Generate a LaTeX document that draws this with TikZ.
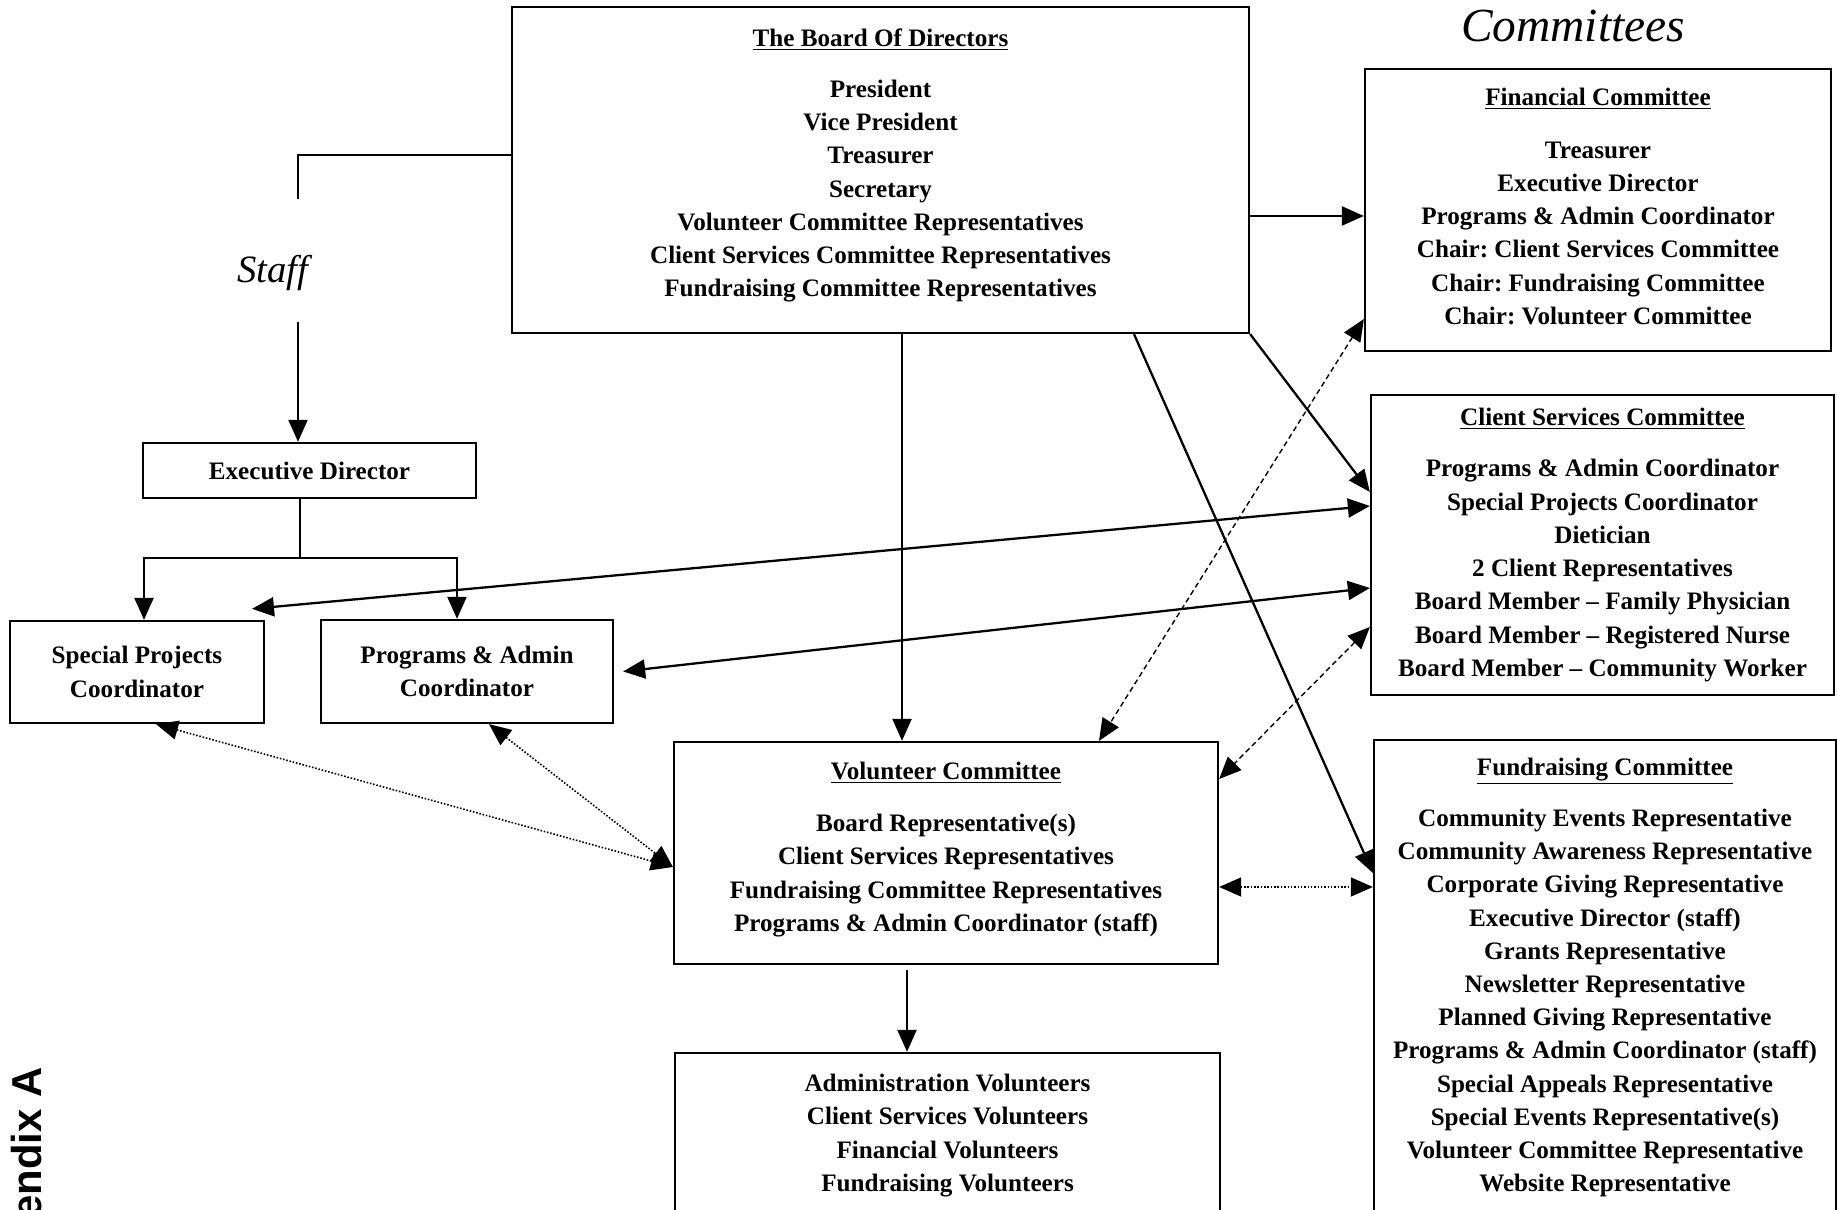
\documentclass[tikz,border=0pt]{standalone}
\usepackage{fontspec}
\setmainfont{Liberation Serif}
\newfontfamily\appxfont{Liberation Sans}
\usetikzlibrary{arrows.meta}
\frenchspacing

\begin{document}
\begin{tikzpicture}[
        x=1cm, y=1cm,
        >={Triangle[length=0.44cm, width=0.38cm]},
        box/.style={draw, line width=1.3pt, align=center, inner sep=0pt,
                    font=\bfseries\fontsize{14.3}{18.9}\selectfont},
        wire/.style={line width=1.3pt},
        flow/.style={->, line width=1.3pt},
        both/.style={<->, line width=1.3pt},
        liaison/.style={<->, line width=0.8pt, densely dashed},
        dots/.style={<->, line width=0.9pt, densely dotted},
        lbl/.style={font=\itshape\fontsize{22}{26}\selectfont, inner sep=0pt}]

    \clip (0,0) rectangle (36.74,24.20);

    \node[box, minimum width=14.74cm, minimum height=6.52cm] (board) at (17.61,20.80)
        {\underline{The Board Of Directors}\\[0.36cm]President\\Vice President\\Treasurer\\Secretary\\
         Volunteer Committee Representatives\\Client Services Committee Representatives\\
         Fundraising Committee Representatives\\[-0.37cm]\rule{0pt}{0pt}};
    \node[lbl, font=\itshape\fontsize{27}{31}\selectfont] (cmt) at (31.46,23.68) {Committees};
    \node[box, minimum width=9.32cm, minimum height=5.64cm] (fin) at (31.96,20.00)
        {\underline{Financial Committee}\\[0.38cm]Treasurer\\Executive Director\\Programs \& Admin Coordinator\\
         Chair: Client Services Committee\\Chair: Fundraising Committee\\Chair: Volunteer Committee\\[-0.52cm]\rule{0pt}{0pt}};
    \node[box, minimum width=9.26cm, minimum height=6.00cm] (cs) at (32.05,13.30)
        {\underline{Client Services Committee}\\[0.36cm]Programs \& Admin Coordinator\\Special Projects Coordinator\\
         Dietician\\2 Client Representatives\\Board Member -- Family Physician\\
         Board Member -- Registered Nurse\\Board Member -- Community Worker};
    \node[box, minimum width=9.24cm, minimum height=9.50cm] (fr) at (32.10,4.65)
        {\underline{Fundraising Committee}\\[0.36cm]Community Events Representative\\Community Awareness Representative\\
         Corporate Giving Representative\\Executive Director (staff)\\Grants Representative\\
         Newsletter Representative\\Planned Giving Representative\\Programs \& Admin Coordinator (staff)\\
         Special Appeals Representative\\Special Events Representative(s)\\
         Volunteer Committee Representative\\Website Representative};

    \node[lbl] (staff) at (5.46,18.74) {Staff};
    \node[box, minimum width=6.66cm, minimum height=1.10cm] (ed)  at (6.19,14.79) {Executive Director};
    \node[box, minimum width=5.08cm, minimum height=2.04cm] (spc) at (2.74,10.76) {Special Projects\\Coordinator};
    \node[box, minimum width=5.84cm, minimum height=2.06cm] (pac) at (9.34,10.77) {Programs \& Admin\\Coordinator};
    \node[box, minimum width=10.88cm, minimum height=4.44cm] (vc) at (18.92,7.14)
        {\underline{Volunteer Committee}\\[0.38cm]Board Representative(s)\\Client Services Representatives\\
         Fundraising Committee Representatives\\Programs \& Admin Coordinator (staff)\\[-0.41cm]\rule{0pt}{0pt}};
    \node[box, minimum width=10.90cm, minimum height=3.30cm] (vols) at (18.95,1.49)
        {Administration Volunteers\\Client Services Volunteers\\Financial Volunteers\\Fundraising Volunteers};
    \node[rotate=90, anchor=base east, inner sep=0pt,
          font=\appxfont\bfseries\fontsize{23.8}{28}\selectfont] (appx) at (0.84,2.86) {Appendix A};

    % --- Staff
    \coordinate (staffin)  at (5.96,20.22);
    \coordinate (staffout) at (5.96,17.76);
    \draw[wire] (board.west |- 0,21.10) -| (staffin);
    \draw[flow] (staffout) -- (staffout |- ed.north);
    \coordinate (edfork) at (6.00,13.04);
    \draw[wire] ([xshift=-0.19cm]ed.south) -- (edfork);
    \draw[flow] (edfork) -| ([xshift=0.14cm]spc.north);
    \draw[flow] (edfork) -| ([xshift=-0.20cm]pac.north);

    % --- Board to committees
    \draw[flow] ([yshift=-0.12cm]fin.west -| board.east) -- ([yshift=-0.12cm]fin.west);
    \draw[flow] (board.south east) -- ([yshift=1.06cm]cs.west);
    \draw[flow] ([xshift=5.07cm]board.south) -- ([yshift=2.09cm]fr.west);
    \draw[flow] ([xshift=-0.88cm]vc.north |- board.south) -- ([xshift=-0.88cm]vc.north);
    \coordinate (volsfeed) at (18.14,4.80);
    \draw[flow] (volsfeed) -- (volsfeed |- vols.north);

    % --- Client Services and staff
    \draw[both] ([yshift=0.78cm]cs.west) -- ([xshift=2.30cm, yshift=0.22cm]spc.north);
    \draw[both] ([yshift=-0.86cm]cs.west) -- ([xshift=0.18cm]pac.east);

    % --- Volunteer Committee links
    \draw[liaison] ([yshift=-2.18cm]fin.west) -- ([xshift=3.06cm]vc.north);
    \draw[liaison] ([yshift=-1.64cm]cs.west) -- ([yshift=1.48cm]vc.east);
    \draw[dots] ([yshift=-0.68cm]vc.east) -- ([yshift=-0.68cm]vc.east -| fr.west);
    \draw[dots] ([xshift=0.38cm]spc.south) -- ([yshift=-0.28cm]vc.west);
    \draw[dots] ([xshift=0.44cm]pac.south) -- ([yshift=-0.28cm]vc.west);

\end{tikzpicture}
\end{document}
